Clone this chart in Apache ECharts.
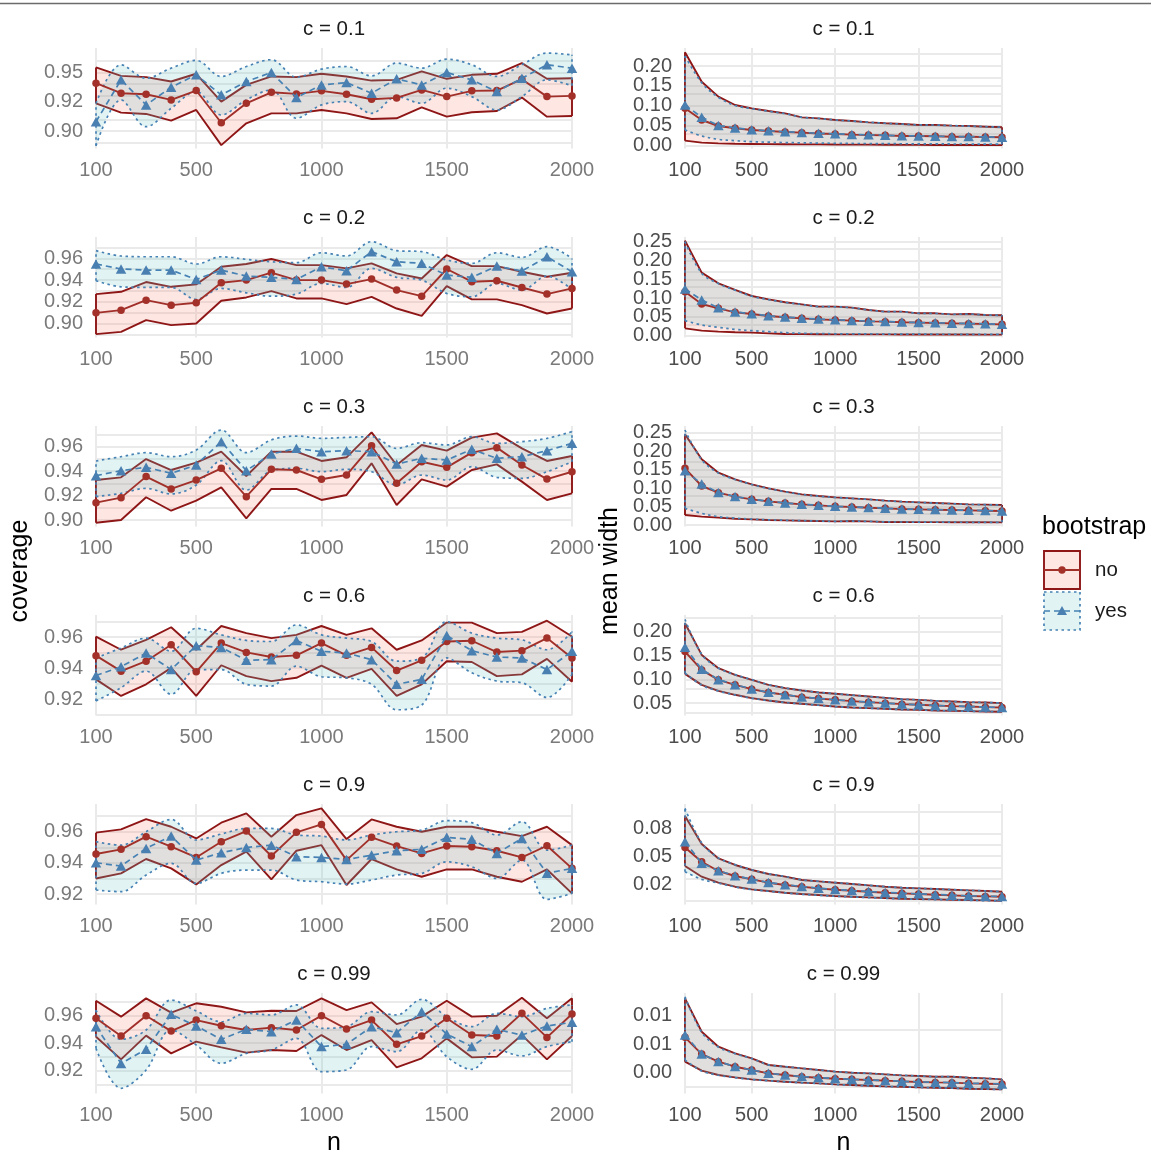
<!DOCTYPE html>
<html><head><meta charset="utf-8">
<script src="https://cdn.jsdelivr.net/npm/echarts@6/dist/echarts.min.js"></script>
<style>html,body{margin:0;padding:0;background:#fff}#main{width:1151px;height:1153px}</style>
</head><body><div id="main"></div>
<script>
// ---------------- DATA ----------------
const nValues = [100,200,300,400,500,600,700,800,900,1000,1100,1200,1300,1400,1500,1600,1700,1800,1900,2000];
const xTicks = [100,500,1000,1500,2000];
const panelLabels = ['c = 0.1','c = 0.2','c = 0.3','c = 0.6','c = 0.9','c = 0.99'];
const legendLabels = ['no','yes'];

// coverage, c = 0.1
const cov01_no_lo  = [0.9237,0.9157,0.9146,0.9089,0.9180,0.8880,0.9066,0.9151,0.9151,0.9180,0.9151,0.9103,0.9109,0.9203,0.9123,0.9160,0.9171,0.9286,0.9123,0.9129];
const cov01_no_mid = [0.9409,0.9323,0.9314,0.9266,0.9346,0.9071,0.9237,0.9331,0.9317,0.9343,0.9314,0.9271,0.9283,0.9351,0.9294,0.9343,0.9346,0.9443,0.9294,0.9300];
const cov01_no_hi  = [0.9543,0.9471,0.9460,0.9423,0.9489,0.9251,0.9394,0.9466,0.9460,0.9489,0.9466,0.9431,0.9437,0.9509,0.9446,0.9480,0.9489,0.9580,0.9446,0.9451];
const cov01_yes_lo  = [0.8874,0.9266,0.9037,0.9194,0.9337,0.9137,0.9266,0.9351,0.9109,0.9223,0.9251,0.9151,0.9294,0.9237,0.9366,0.9294,0.9180,0.9294,0.9437,0.9386];
const cov01_yes_mid = [0.9080,0.9437,0.9223,0.9374,0.9480,0.9309,0.9423,0.9500,0.9286,0.9394,0.9414,0.9323,0.9446,0.9394,0.9500,0.9437,0.9337,0.9451,0.9566,0.9537];
const cov01_yes_hi  = [0.9237,0.9566,0.9451,0.9537,0.9603,0.9466,0.9551,0.9609,0.9460,0.9529,0.9551,0.9471,0.9580,0.9537,0.9614,0.9566,0.9466,0.9566,0.9666,0.9651];

// coverage, c = 0.2
const cov02_no_lo  = [0.8902,0.8923,0.9031,0.8985,0.9000,0.9209,0.9240,0.9298,0.9231,0.9231,0.9178,0.9246,0.9138,0.9071,0.9345,0.9222,0.9222,0.9169,0.9092,0.9138];
const cov02_no_mid = [0.9098,0.9123,0.9215,0.9169,0.9191,0.9375,0.9400,0.9468,0.9400,0.9400,0.9363,0.9409,0.9308,0.9252,0.9502,0.9385,0.9394,0.9332,0.9271,0.9323];
const cov02_no_hi  = [0.9271,0.9292,0.9382,0.9338,0.9360,0.9523,0.9548,0.9594,0.9538,0.9538,0.9508,0.9554,0.9462,0.9415,0.9631,0.9529,0.9529,0.9477,0.9431,0.9468];
const cov02_yes_lo  = [0.9394,0.9338,0.9332,0.9332,0.9222,0.9323,0.9283,0.9252,0.9271,0.9369,0.9332,0.9508,0.9425,0.9400,0.9277,0.9246,0.9369,0.9308,0.9437,0.9314];
const cov02_yes_mid = [0.9548,0.9502,0.9492,0.9492,0.9406,0.9492,0.9437,0.9425,0.9406,0.9523,0.9486,0.9662,0.9569,0.9554,0.9446,0.9425,0.9529,0.9483,0.9615,0.9477];
const cov02_yes_hi  = [0.9671,0.9622,0.9615,0.9615,0.9548,0.9615,0.9591,0.9569,0.9560,0.9652,0.9622,0.9754,0.9671,0.9662,0.9585,0.9554,0.9652,0.9609,0.9708,0.9600];

// coverage, c = 0.3
const cov03_no_lo  = [0.8978,0.9000,0.9186,0.9076,0.9158,0.9267,0.9014,0.9254,0.9254,0.9164,0.9205,0.9464,0.9123,0.9333,0.9273,0.9409,0.9455,0.9314,0.9164,0.9218];
const cov03_no_mid = [0.9142,0.9183,0.9355,0.9254,0.9327,0.9423,0.9191,0.9415,0.9409,0.9333,0.9368,0.9608,0.9300,0.9477,0.9431,0.9551,0.9592,0.9450,0.9335,0.9395];
const cov03_no_hi  = [0.9327,0.9349,0.9499,0.9409,0.9469,0.9559,0.9360,0.9559,0.9559,0.9483,0.9513,0.9717,0.9450,0.9614,0.9567,0.9674,0.9709,0.9586,0.9483,0.9524];
const cov03_yes_lo  = [0.9191,0.9218,0.9259,0.9213,0.9286,0.9485,0.9245,0.9404,0.9423,0.9395,0.9415,0.9395,0.9286,0.9368,0.9327,0.9436,0.9349,0.9341,0.9395,0.9477];
const cov03_yes_mid = [0.9363,0.9404,0.9431,0.9382,0.9450,0.9641,0.9404,0.9540,0.9586,0.9559,0.9567,0.9559,0.9458,0.9505,0.9491,0.9578,0.9505,0.9518,0.9567,0.9627];
const cov03_yes_hi  = [0.9483,0.9518,0.9551,0.9518,0.9573,0.9736,0.9551,0.9655,0.9687,0.9668,0.9676,0.9682,0.9586,0.9633,0.9614,0.9682,0.9627,0.9641,0.9668,0.9723];

// coverage, c = 0.6
const cov06_no_lo  = [0.9328,0.9221,0.9296,0.9402,0.9221,0.9419,0.9349,0.9317,0.9338,0.9417,0.9338,0.9396,0.9221,0.9296,0.9445,0.9440,0.9349,0.9360,0.9460,0.9313];
const cov06_no_mid = [0.9481,0.9381,0.9445,0.9551,0.9377,0.9562,0.9502,0.9472,0.9483,0.9562,0.9483,0.9534,0.9385,0.9451,0.9572,0.9577,0.9504,0.9513,0.9594,0.9466];
const cov06_no_hi  = [0.9604,0.9519,0.9583,0.9664,0.9519,0.9672,0.9626,0.9594,0.9615,0.9672,0.9615,0.9657,0.9519,0.9579,0.9694,0.9694,0.9626,0.9634,0.9706,0.9604];
const cov06_yes_lo  = [0.9189,0.9274,0.9381,0.9232,0.9391,0.9391,0.9296,0.9285,0.9413,0.9345,0.9338,0.9296,0.9132,0.9162,0.9466,0.9370,0.9317,0.9306,0.9211,0.9360];
const cov06_yes_mid = [0.9353,0.9409,0.9498,0.9391,0.9545,0.9534,0.9451,0.9455,0.9579,0.9509,0.9498,0.9455,0.9296,0.9328,0.9611,0.9513,0.9472,0.9466,0.9391,0.9509];
const cov06_yes_hi  = [0.9466,0.9530,0.9594,0.9509,0.9657,0.9615,0.9579,0.9572,0.9679,0.9615,0.9594,0.9572,0.9445,0.9466,0.9700,0.9626,0.9594,0.9583,0.9519,0.9636];

// coverage, c = 0.9
const cov09_no_lo  = [0.9300,0.9333,0.9425,0.9365,0.9262,0.9386,0.9472,0.9294,0.9478,0.9514,0.9258,0.9425,0.9358,0.9311,0.9358,0.9358,0.9311,0.9279,0.9358,0.9204];
const cov09_no_mid = [0.9457,0.9487,0.9568,0.9504,0.9435,0.9536,0.9604,0.9444,0.9596,0.9647,0.9418,0.9564,0.9508,0.9461,0.9508,0.9504,0.9478,0.9435,0.9510,0.9365];
const cov09_no_hi  = [0.9594,0.9615,0.9681,0.9632,0.9557,0.9658,0.9718,0.9568,0.9707,0.9750,0.9553,0.9679,0.9632,0.9600,0.9632,0.9632,0.9600,0.9572,0.9632,0.9514];
const cov09_yes_lo  = [0.9226,0.9215,0.9322,0.9397,0.9268,0.9333,0.9354,0.9354,0.9290,0.9279,0.9264,0.9290,0.9322,0.9333,0.9407,0.9375,0.9300,0.9418,0.9166,0.9204];
const cov09_yes_mid = [0.9401,0.9380,0.9493,0.9572,0.9418,0.9465,0.9499,0.9514,0.9440,0.9435,0.9422,0.9450,0.9478,0.9487,0.9564,0.9551,0.9461,0.9557,0.9333,0.9365];
const cov09_yes_hi  = [0.9536,0.9514,0.9600,0.9679,0.9547,0.9585,0.9621,0.9621,0.9579,0.9572,0.9547,0.9579,0.9600,0.9611,0.9671,0.9658,0.9579,0.9664,0.9482,0.9514];

// coverage, c = 0.99
const cov099_no_lo  = [0.9447,0.9282,0.9455,0.9326,0.9411,0.9370,0.9331,0.9350,0.9343,0.9459,0.9350,0.9423,0.9224,0.9290,0.9435,0.9297,0.9302,0.9459,0.9282,0.9452];
const cov099_no_mid = [0.9581,0.9452,0.9600,0.9488,0.9568,0.9527,0.9496,0.9513,0.9496,0.9600,0.9503,0.9568,0.9392,0.9452,0.9581,0.9459,0.9452,0.9617,0.9442,0.9612];
const cov099_no_hi  = [0.9709,0.9593,0.9726,0.9622,0.9690,0.9665,0.9624,0.9636,0.9634,0.9726,0.9641,0.9697,0.9539,0.9593,0.9709,0.9593,0.9600,0.9731,0.9581,0.9726];
const cov099_yes_lo  = [0.9362,0.9072,0.9205,0.9496,0.9387,0.9253,0.9326,0.9350,0.9435,0.9193,0.9205,0.9375,0.9338,0.9496,0.9302,0.9210,0.9350,0.9307,0.9375,0.9411];
const cov099_yes_mid = [0.9520,0.9253,0.9355,0.9610,0.9525,0.9428,0.9501,0.9484,0.9568,0.9375,0.9392,0.9520,0.9476,0.9629,0.9467,0.9375,0.9501,0.9459,0.9525,0.9552];
const cov099_yes_hi  = [0.9641,0.9428,0.9496,0.9714,0.9634,0.9556,0.9617,0.9605,0.9678,0.9508,0.9520,0.9629,0.9605,0.9719,0.9593,0.9520,0.9617,0.9593,0.9653,0.9678];

// mean width, c = 0.1
const wid01_no_lo  = [0.0118,0.0067,0.0050,0.0040,0.0035,0.0030,0.0028,0.0025,0.0023,0.0020,0.0018,0.0017,0.0015,0.0013,0.0012,0.0010,0.0009,0.0008,0.0007,0.0005];
const wid01_no_mid = [0.0933,0.0639,0.0487,0.0429,0.0387,0.0361,0.0336,0.0320,0.0300,0.0286,0.0269,0.0260,0.0252,0.0235,0.0235,0.0227,0.0218,0.0218,0.0210,0.0202];
const wid01_no_hi  = [0.2345,0.1605,0.1227,0.1017,0.0933,0.0866,0.0807,0.0706,0.0680,0.0639,0.0613,0.0580,0.0555,0.0538,0.0513,0.0513,0.0496,0.0487,0.0470,0.0454];
const wid01_yes_lo  = [0.0387,0.0235,0.0151,0.0118,0.0092,0.0080,0.0070,0.0062,0.0057,0.0050,0.0047,0.0045,0.0042,0.0040,0.0038,0.0036,0.0034,0.0033,0.0031,0.0030];
const wid01_yes_mid = [0.1017,0.0706,0.0500,0.0440,0.0395,0.0368,0.0342,0.0325,0.0305,0.0290,0.0273,0.0264,0.0255,0.0240,0.0238,0.0230,0.0222,0.0221,0.0213,0.0205];
const wid01_yes_hi  = [0.2252,0.1580,0.1210,0.1005,0.0925,0.0860,0.0800,0.0710,0.0678,0.0640,0.0612,0.0582,0.0556,0.0537,0.0515,0.0512,0.0497,0.0486,0.0471,0.0455];

// mean width, c = 0.2
const wid02_no_lo  = [0.0195,0.0133,0.0106,0.0089,0.0080,0.0062,0.0044,0.0040,0.0037,0.0035,0.0035,0.0034,0.0033,0.0032,0.0031,0.0030,0.0030,0.0029,0.0028,0.0028];
const wid02_no_mid = [0.1170,0.0842,0.0727,0.0621,0.0576,0.0523,0.0488,0.0461,0.0434,0.0417,0.0399,0.0381,0.0372,0.0355,0.0346,0.0337,0.0328,0.0319,0.0310,0.0301];
const wid02_no_hi  = [0.2527,0.1676,0.1392,0.1215,0.1055,0.0966,0.0887,0.0833,0.0771,0.0771,0.0745,0.0683,0.0638,0.0638,0.0594,0.0594,0.0567,0.0576,0.0550,0.0541];
const wid02_yes_lo  = [0.0399,0.0284,0.0222,0.0168,0.0133,0.0106,0.0080,0.0062,0.0055,0.0050,0.0047,0.0045,0.0043,0.0041,0.0040,0.0038,0.0037,0.0036,0.0035,0.0034];
const wid02_yes_mid = [0.1241,0.0949,0.0740,0.0630,0.0582,0.0530,0.0494,0.0466,0.0440,0.0421,0.0404,0.0386,0.0376,0.0360,0.0350,0.0342,0.0332,0.0324,0.0314,0.0305];
const wid02_yes_hi  = [0.2500,0.1660,0.1385,0.1210,0.1050,0.0960,0.0885,0.0830,0.0772,0.0768,0.0742,0.0685,0.0640,0.0636,0.0596,0.0592,0.0568,0.0574,0.0551,0.0540];

// mean width, c = 0.3
const wid03_no_lo  = [0.0271,0.0226,0.0199,0.0171,0.0153,0.0135,0.0126,0.0117,0.0108,0.0099,0.0108,0.0099,0.0081,0.0081,0.0078,0.0078,0.0076,0.0074,0.0073,0.0072];
const wid03_no_mid = [0.1534,0.1056,0.0875,0.0767,0.0695,0.0641,0.0596,0.0560,0.0533,0.0505,0.0487,0.0469,0.0451,0.0433,0.0424,0.0415,0.0406,0.0397,0.0388,0.0379];
const wid03_no_hi  = [0.2455,0.1778,0.1417,0.1236,0.1101,0.0993,0.0903,0.0830,0.0785,0.0749,0.0722,0.0695,0.0659,0.0632,0.0614,0.0596,0.0578,0.0560,0.0551,0.0542];
const wid03_yes_lo  = [0.0451,0.0316,0.0226,0.0185,0.0160,0.0140,0.0128,0.0118,0.0109,0.0100,0.0104,0.0098,0.0083,0.0082,0.0079,0.0078,0.0076,0.0074,0.0073,0.0072];
const wid03_yes_mid = [0.1471,0.1110,0.0880,0.0770,0.0698,0.0644,0.0598,0.0562,0.0535,0.0507,0.0489,0.0471,0.0453,0.0435,0.0426,0.0417,0.0408,0.0399,0.0390,0.0381];
const wid03_yes_hi  = [0.2572,0.1765,0.1410,0.1232,0.1098,0.0990,0.0900,0.0828,0.0783,0.0748,0.0720,0.0694,0.0658,0.0631,0.0613,0.0595,0.0577,0.0559,0.0550,0.0541];

// mean width, c = 0.6
const wid06_no_lo  = [0.1117,0.0886,0.0760,0.0676,0.0605,0.0556,0.0514,0.0486,0.0458,0.0430,0.0409,0.0395,0.0381,0.0367,0.0360,0.0346,0.0339,0.0332,0.0325,0.0318];
const wid06_no_mid = [0.1587,0.1201,0.0991,0.0886,0.0795,0.0725,0.0676,0.0627,0.0598,0.0570,0.0542,0.0521,0.0500,0.0479,0.0465,0.0451,0.0437,0.0430,0.0416,0.0409];
const wid06_no_hi  = [0.2182,0.1516,0.1236,0.1096,0.0991,0.0886,0.0816,0.0767,0.0725,0.0697,0.0669,0.0640,0.0612,0.0584,0.0570,0.0549,0.0535,0.0521,0.0514,0.0500];
const wid06_yes_lo  = [0.1131,0.0880,0.0755,0.0672,0.0602,0.0553,0.0512,0.0484,0.0456,0.0428,0.0407,0.0393,0.0379,0.0365,0.0358,0.0344,0.0337,0.0330,0.0323,0.0316];
const wid06_yes_mid = [0.1678,0.1215,0.0995,0.0890,0.0798,0.0728,0.0679,0.0630,0.0600,0.0572,0.0544,0.0523,0.0502,0.0481,0.0467,0.0453,0.0439,0.0432,0.0418,0.0411];
const wid06_yes_hi  = [0.2266,0.1530,0.1240,0.1100,0.0995,0.0890,0.0820,0.0770,0.0728,0.0700,0.0671,0.0643,0.0614,0.0586,0.0572,0.0551,0.0537,0.0523,0.0516,0.0502];

// mean width, c = 0.9
const wid09_no_lo  = [0.0412,0.0316,0.0262,0.0226,0.0202,0.0187,0.0172,0.0160,0.0151,0.0142,0.0136,0.0130,0.0124,0.0118,0.0115,0.0112,0.0109,0.0106,0.0103,0.0100];
const wid09_no_mid = [0.0579,0.0450,0.0367,0.0322,0.0292,0.0262,0.0241,0.0226,0.0211,0.0199,0.0190,0.0181,0.0172,0.0166,0.0160,0.0154,0.0148,0.0142,0.0139,0.0136];
const wid09_no_hi  = [0.0861,0.0609,0.0480,0.0421,0.0376,0.0340,0.0316,0.0286,0.0274,0.0262,0.0250,0.0238,0.0226,0.0217,0.0211,0.0205,0.0199,0.0193,0.0187,0.0181];
const wid09_yes_lo  = [0.0361,0.0292,0.0258,0.0224,0.0200,0.0185,0.0170,0.0158,0.0149,0.0140,0.0134,0.0128,0.0122,0.0116,0.0113,0.0110,0.0107,0.0104,0.0101,0.0098];
const wid09_yes_mid = [0.0630,0.0436,0.0370,0.0324,0.0294,0.0264,0.0243,0.0228,0.0213,0.0201,0.0192,0.0183,0.0174,0.0168,0.0162,0.0156,0.0150,0.0144,0.0141,0.0138];
const wid09_yes_hi  = [0.0930,0.0620,0.0485,0.0424,0.0378,0.0342,0.0318,0.0288,0.0275,0.0263,0.0251,0.0239,0.0227,0.0218,0.0212,0.0206,0.0200,0.0194,0.0188,0.0182];

// mean width, c = 0.99
const wid099_no_lo  = [0.00443,0.00285,0.00209,0.00168,0.00133,0.00110,0.00092,0.00075,0.00063,0.00045,0.00034,0.00022,0.00010,0.00004,-0.00007,-0.00013,-0.00019,-0.00031,-0.00037,-0.00042];
const wid099_no_mid = [0.00870,0.00577,0.00443,0.00355,0.00297,0.00238,0.00209,0.00180,0.00162,0.00145,0.00133,0.00121,0.00110,0.00098,0.00086,0.00080,0.00075,0.00063,0.00057,0.00051];
const wid099_no_hi  = [0.01554,0.00969,0.00706,0.00589,0.00501,0.00385,0.00355,0.00326,0.00297,0.00268,0.00250,0.00238,0.00221,0.00203,0.00192,0.00180,0.00180,0.00162,0.00151,0.00133];
const wid099_yes_lo  = [0.00472,0.00280,0.00205,0.00165,0.00131,0.00108,0.00090,0.00073,0.00061,0.00043,0.00032,0.00020,0.00008,0.00002,-0.00009,-0.00015,-0.00021,-0.00033,-0.00039,-0.00044];
const wid099_yes_mid = [0.00911,0.00577,0.00445,0.00357,0.00299,0.00240,0.00211,0.00182,0.00164,0.00147,0.00135,0.00123,0.00112,0.00100,0.00088,0.00082,0.00077,0.00065,0.00059,0.00053];
const wid099_yes_hi  = [0.01583,0.00960,0.00700,0.00585,0.00500,0.00388,0.00357,0.00328,0.00299,0.00270,0.00252,0.00240,0.00223,0.00205,0.00193,0.00182,0.00181,0.00164,0.00152,0.00135];

// tick values and labels
const covTicks = [[0.90,0.925,0.95],[0.90,0.92,0.94,0.96],[0.90,0.92,0.94,0.96],[0.92,0.94,0.96],[0.92,0.94,0.96],[0.92,0.94,0.96]];
const covTickLabels = [['0.90','0.92','0.95'],['0.90','0.92','0.94','0.96'],['0.90','0.92','0.94','0.96'],['0.92','0.94','0.96'],['0.92','0.94','0.96'],['0.92','0.94','0.96']];
const widTicks = [[0,0.05,0.10,0.15,0.20],[0,0.05,0.10,0.15,0.20,0.25],[0,0.05,0.10,0.15,0.20,0.25],[0.05,0.10,0.15,0.20],[0.025,0.05,0.075],[0.0025,0.0075,0.0125]];
const widTickLabels = [['0.00','0.05','0.10','0.15','0.20'],['0.00','0.05','0.10','0.15','0.20','0.25'],['0.00','0.05','0.10','0.15','0.20','0.25'],['0.05','0.10','0.15','0.20'],['0.02','0.05','0.08'],['0.00','0.01','0.01']];

// ---------------- LAYOUT / SCALES ----------------
const covRanges = [[0.8851,0.9709],[0.8871,0.9797],[0.8947,0.9769],[0.9095,0.9743],[0.9133,0.9778],[0.9034,0.9765]];
const widRanges = [[-0.008,0.2454],[-0.0049,0.2624],[-0.004,0.268],[0.024,0.2357],[0.0066,0.0969],[-0.00115,0.01648]];
const L = {leftX:96, leftW:476, rightX:685, rightW:317, top0:48, step:189, h:100.5};
const FONT = '"Liberation Sans", Arial, Helvetica, sans-serif';

const C = {
  noLine:'#8E1616', noMean:'#A2302A', noPoint:'#A3312A', noFill:'rgba(250,128,114,0.2)',
  yesLine:'#4682B4', yesPoint:'#4A80B1', yesFill:'rgba(110,195,200,0.2)',
  grid:'#EAEAEA'
};

const covData = [
  [cov01_no_lo,cov01_no_mid,cov01_no_hi,cov01_yes_lo,cov01_yes_mid,cov01_yes_hi],
  [cov02_no_lo,cov02_no_mid,cov02_no_hi,cov02_yes_lo,cov02_yes_mid,cov02_yes_hi],
  [cov03_no_lo,cov03_no_mid,cov03_no_hi,cov03_yes_lo,cov03_yes_mid,cov03_yes_hi],
  [cov06_no_lo,cov06_no_mid,cov06_no_hi,cov06_yes_lo,cov06_yes_mid,cov06_yes_hi],
  [cov09_no_lo,cov09_no_mid,cov09_no_hi,cov09_yes_lo,cov09_yes_mid,cov09_yes_hi],
  [cov099_no_lo,cov099_no_mid,cov099_no_hi,cov099_yes_lo,cov099_yes_mid,cov099_yes_hi]
];
const widData = [
  [wid01_no_lo,wid01_no_mid,wid01_no_hi,wid01_yes_lo,wid01_yes_mid,wid01_yes_hi],
  [wid02_no_lo,wid02_no_mid,wid02_no_hi,wid02_yes_lo,wid02_yes_mid,wid02_yes_hi],
  [wid03_no_lo,wid03_no_mid,wid03_no_hi,wid03_yes_lo,wid03_yes_mid,wid03_yes_hi],
  [wid06_no_lo,wid06_no_mid,wid06_no_hi,wid06_yes_lo,wid06_yes_mid,wid06_yes_hi],
  [wid09_no_lo,wid09_no_mid,wid09_no_hi,wid09_yes_lo,wid09_yes_mid,wid09_yes_hi],
  [wid099_no_lo,wid099_no_mid,wid099_no_hi,wid099_yes_lo,wid099_yes_mid,wid099_yes_hi]
];

function minorTicks(t, lo, hi){
  const s = t[1]-t[0];
  const out = [t[0]-s/2];
  for (let i=0;i<t.length-1;i++) out.push((t[i]+t[i+1])/2);
  out.push(t[t.length-1]+s/2);
  return out.filter(v => v>lo && v<hi);
}

const cats = nValues.map(String);
const grids=[], xAxes=[], yAxes=[], series=[], graphics=[];
const panels = [];
for (let r=0;r<6;r++){
  panels.push({col:0,row:r,data:covData[r],range:covRanges[r],ticks:covTicks[r],labels:covTickLabels[r],lblColor:'#7A7A7A'});
  panels.push({col:1,row:r,data:widData[r],range:widRanges[r],ticks:widTicks[r],labels:widTickLabels[r],lblColor:'#4D4D4D'});
}

panels.forEach((p, idx) => {
  const left = p.col===0 ? L.leftX : L.rightX;
  const width = p.col===0 ? L.leftW : L.rightW;
  const top = L.top0 + L.step*p.row;
  grids.push({left:left, top:top, width:width, height:L.h, containLabel:false, outerBoundsMode:'none'});
  xAxes.push({type:'category', gridIndex:idx, data:cats, boundaryGap:false,
    axisLine:{show:false}, axisTick:{show:false}, splitLine:{show:false},
    axisLabel:{interval:(i, v) => xTicks.indexOf(Number(v)) >= 0, showMinLabel:true, showMaxLabel:true,
      color:p.lblColor, fontSize:20, fontFamily:FONT, margin:12}});
  const tk = p.ticks, lb = p.labels;
  const fmt = v => { for (let i=0;i<tk.length;i++) if (Math.abs(tk[i]-v)<1e-9) return lb[i]; return ''; };
  // two overlaid y axes (even / odd ticks) so that closely spaced labels are all kept
  [0,1].forEach(parity => {
    yAxes.push({type:'value', gridIndex:idx, position:'left', offset:0, min:p.range[0], max:p.range[1],
      axisLine:{show:false}, axisTick:{show:false}, splitLine:{show:false},
      axisLabel:{customValues:tk.filter((v,i)=>i%2===parity), showMinLabel:true, showMaxLabel:true, hideOverlap:false,
        color:p.lblColor, fontSize:20, fontFamily:FONT, margin:13, formatter:fmt}});
  });
  const yi = 2*idx;

  // gridlines via markLine
  const ml = [];
  xTicks.forEach(v => ml.push({xAxis:String(v), lineStyle:{color:C.grid, width:2, type:'solid'}}));
  tk.forEach(v => ml.push({yAxis:v, lineStyle:{color:C.grid, width:2, type:'solid'}}));
  minorTicks(tk, p.range[0], p.range[1]).forEach(v => ml.push({yAxis:v, lineStyle:{color:C.grid, width:1.8, type:'solid'}}));
  series.push({type:'line', xAxisIndex:idx, yAxisIndex:yi, data:[(p.range[0]+p.range[1])/2],
    symbol:'none', lineStyle:{opacity:0}, silent:true, z:0,
    markLine:{silent:true, z:1, symbol:['none','none'], label:{show:false}, emphasis:{disabled:true}, animation:false, data:ml}});

  const [nlo,nmid,nhi,ylo,ymid,yhi] = p.data;
  const band = (lo, hi, key, lineStyle, fill, smooth, z) => {
    series.push({type:'line', xAxisIndex:idx, yAxisIndex:yi, stack:key, stackStrategy:'all', symbol:'none', smooth:smooth, silent:true, z:z,
      lineStyle:lineStyle, data: lo.slice()});
    series.push({type:'line', xAxisIndex:idx, yAxisIndex:yi, stack:key, stackStrategy:'all', symbol:'none', smooth:smooth, silent:true, z:z,
      lineStyle:lineStyle, areaStyle:{color:fill, opacity:1}, data: hi.map((h,i)=>h-lo[i])});
    const last = cats.length-1;
    series.push({type:'line', xAxisIndex:idx, yAxisIndex:yi, symbol:'none', silent:true, z:z, lineStyle:lineStyle,
      data:[[cats[0], lo[0]],[cats[0], hi[0]]]});
    series.push({type:'line', xAxisIndex:idx, yAxisIndex:yi, symbol:'none', silent:true, z:z, lineStyle:lineStyle,
      data:[[cats[last], lo[last]],[cats[last], hi[last]]]});
  };
  band(nlo, nhi, 'no'+idx, {color:C.noLine, width:1.9, type:'solid'}, C.noFill, false, 2);
  band(ylo, yhi, 'yes'+idx, {color:C.yesLine, width:1.7, type:[2.5,3.5]}, C.yesFill, 0.35, 3);

  series.push({type:'line', xAxisIndex:idx, yAxisIndex:yi, silent:true, z:4,
    symbol:'circle', symbolSize:7.5, showSymbol:true, showAllSymbol:true, itemStyle:{color:C.noPoint},
    lineStyle:{color:C.noMean, width:1.9, type:'solid'}, data: nmid.slice()});
  series.push({type:'line', xAxisIndex:idx, yAxisIndex:yi, silent:true, z:5,
    symbol:'triangle', symbolSize:[10.5,9.5], showSymbol:true, showAllSymbol:true, itemStyle:{color:C.yesPoint},
    lineStyle:{color:C.yesLine, width:1.7, type:[6,4]}, data: ymid.slice()});

  // strip title
  graphics.push({type:'text', x:left+width/2, y:top-19, silent:true,
    style:{text:panelLabels[p.row], fill:'#1A1A1A', font:'20.5px '+FONT, align:'center', verticalAlign:'middle', textAlign:'center', textVerticalAlign:'middle'}});
});

// axis titles
graphics.push({type:'text', x:(L.leftX*2+L.leftW)/2, y:1143, silent:true,
  style:{text:'n', fill:'#000', font:'25px '+FONT, align:'center', verticalAlign:'middle', textAlign:'center', textVerticalAlign:'middle'}});
graphics.push({type:'text', x:(L.rightX*2+L.rightW)/2, y:1143, silent:true,
  style:{text:'n', fill:'#000', font:'25px '+FONT, align:'center', verticalAlign:'middle', textAlign:'center', textVerticalAlign:'middle'}});
graphics.push({type:'text', x:20, y:571, rotation:Math.PI/2, silent:true,
  style:{text:'coverage', fill:'#000', font:'25px '+FONT, align:'center', verticalAlign:'middle', textAlign:'center', textVerticalAlign:'middle'}});
graphics.push({type:'text', x:610, y:571, rotation:Math.PI/2, silent:true,
  style:{text:'mean width', fill:'#000', font:'25px '+FONT, align:'center', verticalAlign:'middle', textAlign:'center', textVerticalAlign:'middle'}});

// legend
graphics.push({type:'text', x:1042, y:527, silent:true,
  style:{text:'bootstrap', fill:'#000', font:'25px '+FONT, align:'left', verticalAlign:'middle', textAlign:'left', textVerticalAlign:'middle'}});
graphics.push({type:'rect', silent:true, shape:{x:1044, y:551, width:36, height:38},
  style:{fill:C.noFill, stroke:C.noLine, lineWidth:1.9}});
graphics.push({type:'line', silent:true, shape:{x1:1044, y1:570, x2:1080, y2:570}, style:{stroke:C.noMean, lineWidth:1.9}});
graphics.push({type:'circle', silent:true, shape:{cx:1062, cy:570, r:3.7}, style:{fill:C.noPoint}});
graphics.push({type:'rect', silent:true, shape:{x:1044, y:592, width:36, height:38},
  style:{fill:C.yesFill, stroke:C.yesLine, lineWidth:1.7, lineDash:[2.5,3.5]}});
graphics.push({type:'line', silent:true, shape:{x1:1044, y1:611, x2:1080, y2:611}, style:{stroke:C.yesLine, lineWidth:1.7, lineDash:[6,4]}});
graphics.push({type:'polygon', silent:true, shape:{points:[[1062,606],[1057,615],[1067,615]]}, style:{fill:C.yesPoint}});
graphics.push({type:'text', x:1095, y:570, silent:true,
  style:{text:legendLabels[0], fill:'#1A1A1A', font:'20.5px '+FONT, align:'left', verticalAlign:'middle', textAlign:'left', textVerticalAlign:'middle'}});
graphics.push({type:'text', x:1095, y:611, silent:true,
  style:{text:legendLabels[1], fill:'#1A1A1A', font:'20.5px '+FONT, align:'left', verticalAlign:'middle', textAlign:'left', textVerticalAlign:'middle'}});

// top rule
graphics.push({type:'line', silent:true, shape:{x1:0, y1:3.5, x2:1151, y2:3.5}, style:{stroke:'#6B6B6B', lineWidth:1.5}});

const chart = echarts.init(document.getElementById('main'), null, {renderer:'canvas'});
chart.setOption({
  animation:false,
  backgroundColor:'#ffffff',
  grid:grids, xAxis:xAxes, yAxis:yAxes, series:series,
  graphic:{elements:graphics}
});
</script>
</body></html>
